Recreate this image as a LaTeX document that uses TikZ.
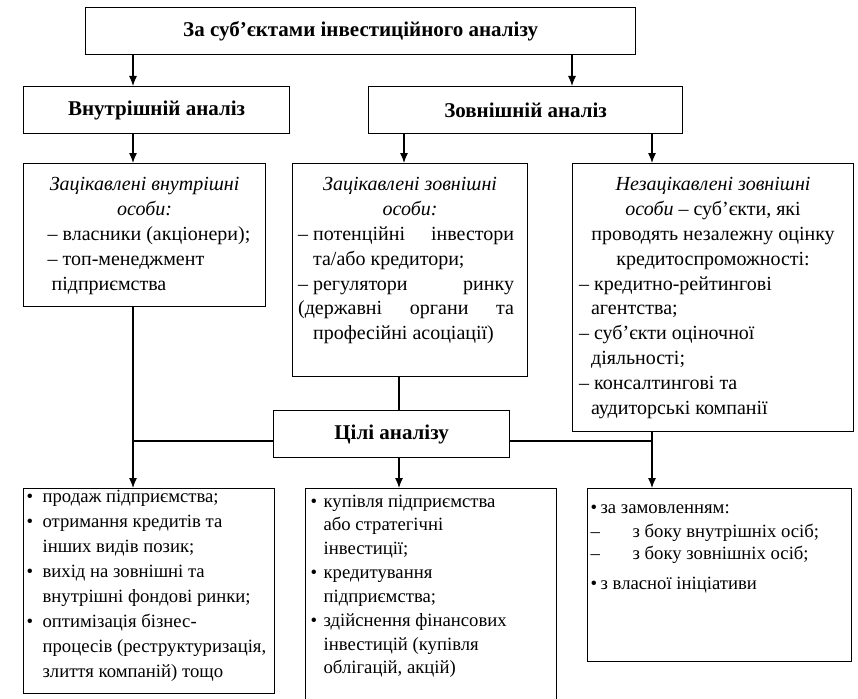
\documentclass[tikz,border=0pt]{standalone}
\usepackage{fontspec}
\setmainfont{Liberation Serif}
\usetikzlibrary{arrows.meta,positioning}

% dash item and bullet item
\newcommand{\dsh}{–\hspace{5pt}}
\newcommand{\bul}[1]{\hangindent=#1\hangafter=1\noindent\makebox[#1][l]{•}}

\tikzset{
  box/.style={draw, line width=1.2pt, anchor=north west, inner sep=0pt},
  head/.style={box, font=\fontsize{21}{25}\selectfont\bfseries},
  who/.style={box, font=\fontsize{20}{24.8}\selectfont},
  aim/.style={box, font=\fontsize{18.7}{24}\selectfont},
  arr/.style={line width=1.2pt, -{Latex[length=10pt,width=8pt]}},
  lnk/.style={line width=1.2pt}
}

\begin{document}
\begin{tikzpicture}[x=1pt,y=-1pt]
  \useasboundingbox (0,0) rectangle (858,698);

  % subjects
  \node[head, minimum width=550pt, minimum height=47pt] (top) at (85,7) {За суб’єктами інвестиційного аналізу};
  \node[head, minimum width=266pt, minimum height=47pt] (vnutr) at (23,86) {Внутрішній аналіз};
  \node[head, minimum width=314pt, minimum height=47pt] (zovn) at (368,86) {Зовнішній аналіз};

  % persons
  \node[who, inner xsep=11pt] (osoby1) at (23,163) {\parbox[t][143pt][t]{220pt}{\vspace*{10pt}
    {\centering\itshape\strut Зацікавлені внутрішні\\ особи:\par}
    \raggedright\leftskip=13pt
    \mbox{\dsh власники (акціонери);}\\
    \dsh топ-менеджмент\\
    \hspace*{4pt}підприємства}};
  \node[who, inner xsep=8.5pt] (osoby2) at (292,163) {\parbox[t][213pt][t]{218pt}{\vspace*{10pt}
    {\centering\itshape\strut Зацікавлені зовнішні\\ особи:\par}
    \leftskip=-3pt\rightskip=5pt
    \dsh потенційні інвестори\linebreak\hspace*{15pt}та/або кредитори;\par
    \dsh регулятори ринку\linebreak (державні органи та\linebreak\hspace*{15pt}професійні асоціації)}};
  \node[who, inner xsep=6.5pt] (osoby3) at (572,163) {\parbox[t][268pt][t]{268pt}{\vspace*{10pt}
    {\centering\strut\textit{Незацікавлені зовнішні}\\ \textit{особи} – суб’єкти, які\\ проводять незалежну оцінку\\ кредитоспроможності:\par}
    \raggedright
    \dsh кредитно-рейтингові\\ \hspace*{12pt}агентства;\\
    \dsh суб’єкти оціночної\\ \hspace*{12pt}діяльності;\\
    \dsh консалтингові та\\ \hspace*{12pt}аудиторські компанії}};

  % goals
  \node[head, minimum width=236pt, minimum height=47pt] (tsili) at (273,410) {Цілі аналізу};
  \node[aim, inner xsep=3pt] (meta1) at (23,488) {\parbox[t][205pt][t]{245pt}{\vspace*{-3pt}\baselineskip=25pt
    \bul{16pt}\strut продаж підприємства;\par
    \bul{16pt}отримання кредитів та\newline інших видів позик;\par
    \bul{16pt}вихід на зовнішні та\newline внутрішні фондові ринки;\par
    \bul{16pt}оптимізація бізнес-\newline \mbox{процесів (реструктуризація,}\newline злиття компаній) тощо}};
  \node[aim, inner xsep=5pt] (meta2) at (305,488) {\parbox[t][212pt][t]{241pt}{\vspace*{1pt}\parskip=1pt\baselineskip=23.5pt
    \bul{13pt}\strut купівля підприємства\newline або стратегічні\newline інвестиції;\par
    \bul{13pt}кредитування\newline підприємства;\par
    \bul{13pt}здійснення фінансових\newline інвестицій (купівля\newline облігацій, акцій)}};
  \node[aim, inner xsep=3pt] (meta3) at (587,488) {\parbox[t][173pt][t]{258pt}{\vspace*{6pt}\parskip=2pt\baselineskip=22pt
    \bul{10pt}\strut за замовленням:\par
    \noindent\makebox[42pt][l]{–}з боку внутрішніх осіб;\newline
    \makebox[42pt][l]{–}з боку зовнішніх осіб;\par\vspace{6pt}
    \bul{10pt}з власної ініціативи}};

  % connector columns
  \coordinate (ca) at (133,0);
  \coordinate (cb) at (572,0);
  \coordinate (cc) at (404,0);
  \coordinate (cd) at (652,0);
  \coordinate (ce) at (399,0);
  \coordinate (jn) at (0,441);

  \draw[arr] (top.south -| ca) -- (vnutr.north -| ca);
  \draw[arr] (top.south -| cb) -- (zovn.north -| cb);
  \draw[arr] (vnutr.south -| ca) -- (osoby1.north -| ca);
  \draw[arr] (zovn.south -| cc) -- (osoby2.north -| cc);
  \draw[arr] (zovn.south -| cd) -- (osoby3.north -| cd);
  \draw[lnk] (osoby2.south -| ce) -- (tsili.north -| ce);
  \draw[lnk] (tsili.west |- jn) -- (jn -| ca);
  \draw[lnk] (tsili.east |- jn) -- (jn -| cd);
  \draw[arr] (osoby1.south -| ca) -- (meta1.north -| ca);
  \draw[arr] (tsili.south -| ce) -- (meta2.north -| ce);
  \draw[arr] (osoby3.south -| cd) -- (meta3.north -| cd);
\end{tikzpicture}
\end{document}
